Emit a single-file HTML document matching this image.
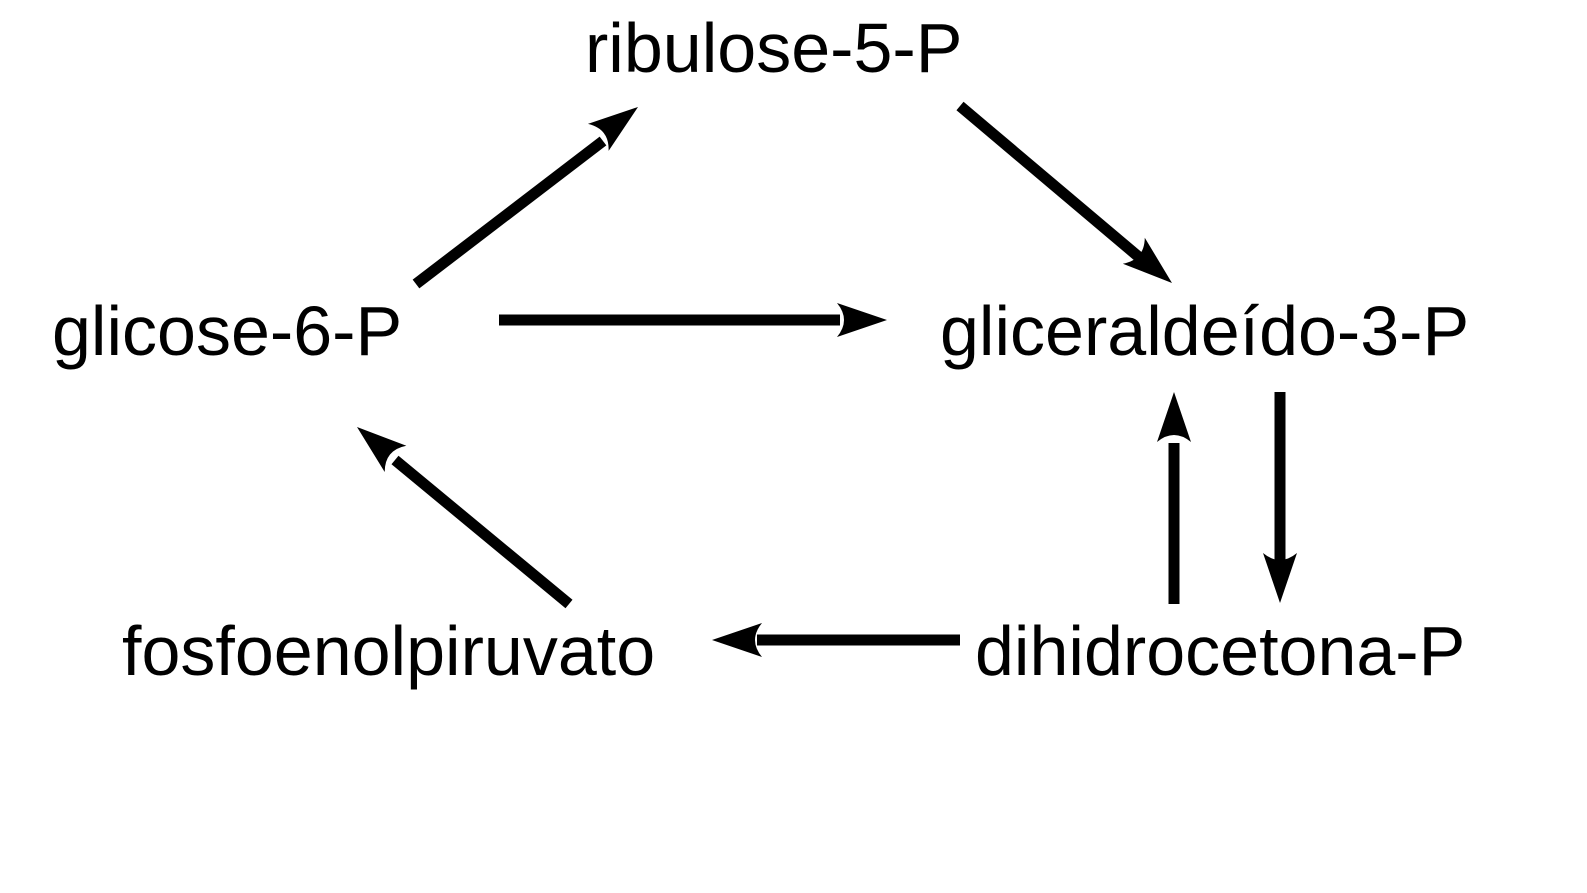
<!DOCTYPE html>
<html><head><meta charset="utf-8"><style>
html,body{margin:0;padding:0;background:#fff;}
svg{display:block}
text{font-family:"Liberation Sans",sans-serif;font-size:70px;fill:#000}
</style></head><body>
<svg width="1587" height="893" viewBox="0 0 1587 893" xmlns="http://www.w3.org/2000/svg">
<defs>
<path id="ah" d="M0,0 L-50,-17 Q-36,0 -50,17 Z" fill="#000"/>
</defs>
<text x="585" y="72">ribulose-5-P</text>
<text x="52" y="355">glicose-6-P</text>
<text x="940" y="355">gliceraldeído-3-P</text>
<text x="122" y="675">fosfoenolpiruvato</text>
<text x="975" y="675">dihidrocetona-P</text>
<g stroke="#000" stroke-width="11" fill="none">
<line x1="416" y1="284" x2="603" y2="141"/>
<line x1="499" y1="320" x2="840" y2="320"/>
<line x1="960" y1="106" x2="1140" y2="258"/>
<line x1="1174" y1="604" x2="1174" y2="443"/>
<line x1="1280" y1="392" x2="1280" y2="562"/>
<line x1="960" y1="640" x2="757" y2="640"/>
<line x1="569" y1="604" x2="395" y2="460"/>
</g>
<use href="#ah" transform="translate(638,107) rotate(-37.4)"/>
<use href="#ah" transform="translate(887,320)"/>
<use href="#ah" transform="translate(1172,283) rotate(40.2)"/>
<use href="#ah" transform="translate(1174,392) rotate(-90)"/>
<use href="#ah" transform="translate(1280,603) rotate(90)"/>
<use href="#ah" transform="translate(712,640) rotate(180)"/>
<use href="#ah" transform="translate(357,427) rotate(219.6)"/>
</svg>
</body></html>
